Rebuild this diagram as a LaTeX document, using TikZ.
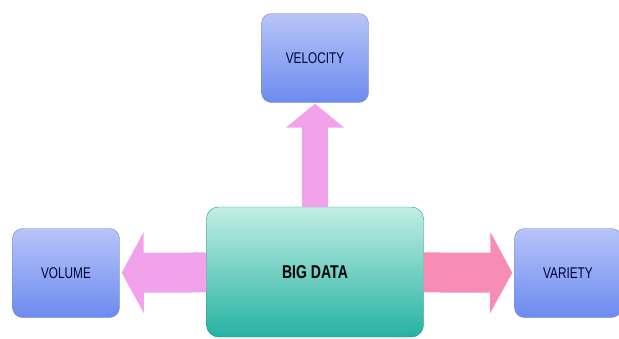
\documentclass[tikz,border=0pt]{standalone}
\usepackage{fontspec}
\setmainfont{Liberation Sans}[FakeStretch=0.76]
\usetikzlibrary{arrows.meta}
\definecolor{vtop}{HTML}{B7C4F8}
\definecolor{vbot}{HTML}{6C8BF0}
\definecolor{vline}{HTML}{7C88B8}
\definecolor{btop}{HTML}{C2EEE5}
\definecolor{bbot}{HTML}{25B2A2}
\definecolor{bline}{HTML}{2A8E84}
\definecolor{violetpink}{HTML}{F2A2EA}
\definecolor{rosepink}{HTML}{F78DB6}
\begin{document}
\begin{tikzpicture}
  [x=1pt,y=-1pt,
   vbox/.style={rectangle,rounded corners=10pt,draw=vline,top color=vtop,bottom color=vbot,
     minimum width=107pt,minimum height=89pt,text=blue!20!black,font=\fontsize{15.5}{15.5}\selectfont},
   bbox/.style={rectangle,rounded corners=12pt,draw=bline,top color=btop,bottom color=bbot,
     minimum width=217pt,minimum height=130pt,font=\bfseries\fontsize{18.5}{18.5}\selectfont}]
  \useasboundingbox (0,0) rectangle (619,338);
  \node[bbox] (bigdata) at (315,272) {BIG DATA};
  \node[vbox] (velocity) at (315,58) {VELOCITY};
  \node[vbox] (volume) at (66,273) {VOLUME};
  \node[vbox] (variety) at (568,273) {VARIETY};

  \draw[violetpink,line width=26pt,-{Triangle[length=24pt,width=57pt]},shorten >=1pt]
    (bigdata.north) -- (velocity.south);
  \foreach \from/\to/\col in {bigdata/volume/violetpink,bigdata/variety/rosepink}
    \draw[\col,line width=40pt,-{Triangle[length=22pt,width=80pt]},shorten >=2pt]
      (\from) -- (\to);

\end{tikzpicture}
\end{document}
